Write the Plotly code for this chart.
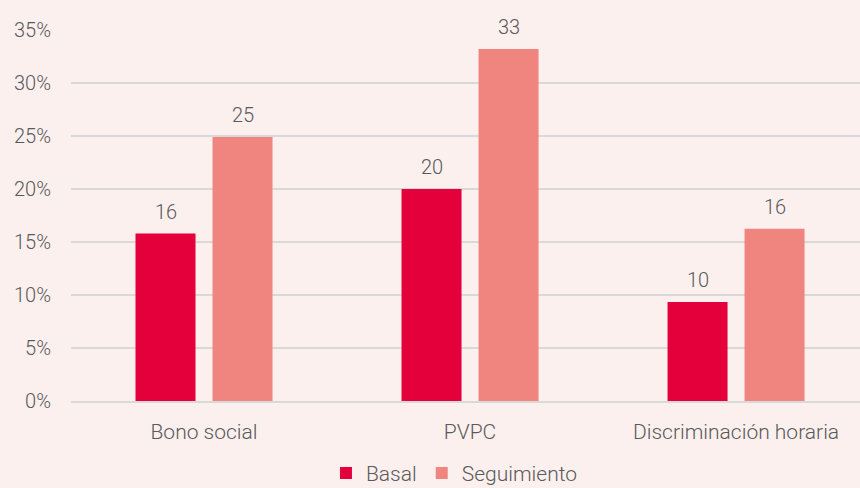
import plotly.graph_objects as go

categories = ["Bono social", "PVPC", "Discriminación horaria"]
basal = [15.8, 20.0, 9.35]
seguimiento = [24.9, 33.2, 16.25]
basal_labels = ["16", "20", "10"]
seguimiento_labels = ["25", "33", "16"]
y_ticks = [0, 5, 10, 15, 20, 25, 30, 35]
y_tick_labels = ["0%", "5%", "10%", "15%", "20%", "25%", "30%", "35%"]

BG = "#fcf0ef"
C_BASAL = "#e4003a"
C_SEG = "#f0857f"
TXT = "#595959"
FONT = "Roboto"
FS = 20

bar_w = 0.2256
off_basal = -0.2575
off_seg = 0.032

x_idx = list(range(len(categories)))

fig = go.Figure()
fig.add_trace(go.Bar(name="Basal", x=x_idx, y=basal, width=bar_w, offset=off_basal,
                     marker=dict(color=C_BASAL, line=dict(width=0))))
fig.add_trace(go.Bar(name="Seguimiento", x=x_idx, y=seguimiento, width=bar_w, offset=off_seg,
                     marker=dict(color=C_SEG, line=dict(width=0))))

for i in x_idx:
    fig.add_annotation(x=i + off_basal + bar_w / 2, y=basal[i], text=basal_labels[i],
                       showarrow=False, yanchor="bottom", yshift=8,
                       font=dict(family=FONT, size=FS, color=TXT, weight=300))
    fig.add_annotation(x=i + off_seg + bar_w / 2, y=seguimiento[i], text=seguimiento_labels[i],
                       showarrow=False, yanchor="bottom", yshift=8,
                       font=dict(family=FONT, size=FS, color=TXT, weight=300))

fig.update_layout(
    width=860, height=488,
    paper_bgcolor=BG, plot_bgcolor=BG,
    margin=dict(l=71, r=0, t=30, b=87),
    barmode="overlay",
    font=dict(family=FONT, size=FS, color=TXT, weight=300),
    showlegend=True,
    legend=dict(orientation="h", x=0.486, xanchor="center",
                yref="container", y=0.03, yanchor="middle",
                font=dict(family=FONT, size=21, color=TXT, weight=300),
                itemwidth=30, traceorder="normal", bgcolor="rgba(0,0,0,0)"),
)
fig.update_xaxes(
    tickmode="array", tickvals=x_idx, ticktext=categories,
    range=[-0.5, 2.466], showgrid=False, zeroline=False,
    ticks="outside", ticklen=11, tickcolor=BG,
    showline=True, linecolor="#d9d9d9", linewidth=1.5, automargin=False,
    tickfont=dict(family=FONT, size=21, color=TXT, weight=300),
)
fig.update_yaxes(
    range=[0, 35], tickmode="array", tickvals=y_ticks, ticktext=y_tick_labels,
    showgrid=True, gridcolor="#d9d9d9", gridwidth=1.5, zeroline=False,
    ticks="", ticklabelstandoff=19, automargin=False,
    tickfont=dict(family=FONT, size=FS, color=TXT, weight=300),
)

fig.write_html("out.html", config={"displayModeBar": False},
               post_script="document.body.style.margin='0';document.body.style.background='%s';" % BG)
